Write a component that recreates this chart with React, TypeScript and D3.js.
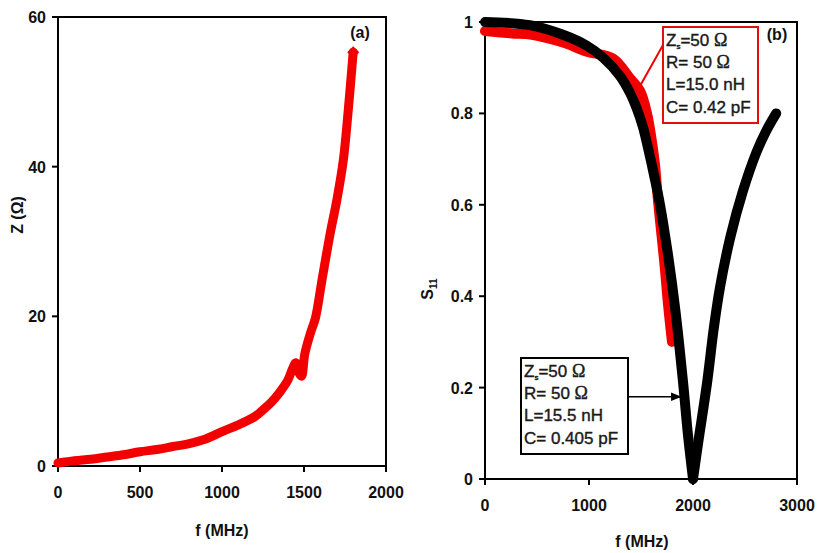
import React from 'react';
import * as d3 from 'd3';

// (a) measured impedance vs frequency
const zFreq = [0, 100, 200, 300, 400, 500, 600, 700, 800, 900, 1000, 1100, 1200, 1250, 1300, 1350, 1400, 1430, 1450, 1470, 1485, 1505, 1540, 1570, 1610, 1660, 1700, 1740, 1770, 1800];
const zVal = [0.4, 0.7, 0.9, 1.2, 1.5, 1.9, 2.2, 2.6, 3.0, 3.6, 4.6, 5.5, 6.6, 7.5, 8.5, 9.8, 11.4, 13.0, 13.8, 12.4, 12.0, 15.0, 17.8, 19.8, 24.9, 31.1, 35.5, 40.9, 47.6, 55.3];

// (b) S11: measured (red) and model (black, two branches around resonance)
const measFreq = [0, 260, 450, 750, 980, 1231, 1394, 1490, 1558, 1606, 1635, 1663, 1702, 1731, 1760, 1798];
const measS11 = [0.98, 0.975, 0.972, 0.955, 0.935, 0.92, 0.877, 0.85, 0.8, 0.737, 0.687, 0.61, 0.523, 0.457, 0.381, 0.3];
const modelFreqLow = [0, 430, 750, 980, 1135, 1298, 1394, 1460, 1519, 1567, 1630, 1683, 1760, 1830, 1905, 1950, 2000];
const modelS11Low = [1.0, 0.993, 0.972, 0.948, 0.922, 0.882, 0.845, 0.81, 0.77, 0.725, 0.66, 0.6, 0.49, 0.37, 0.21, 0.1, 0.0];
const modelFreqHigh = [2000, 2050, 2135, 2200, 2260, 2360, 2480, 2610, 2700, 2800];
const modelS11High = [0.0, 0.08, 0.21, 0.33, 0.42, 0.53, 0.63, 0.715, 0.76, 0.8];

const xTicksA = [0, 500, 1000, 1500, 2000];
const yTicksA = [0, 20, 40, 60];
const xTicksB = [0, 1000, 2000, 3000];
const yTicksB = [0, 0.2, 0.4, 0.6, 0.8, 1];

const measLegend = ['=50 ', 'R= 50 ', 'L=15.0 nH', 'C= 0.42 pF'];
const modelLegend = ['=50 ', 'R= 50 ', 'L=15.5 nH', 'C= 0.405 pF'];

const FONT = '"Liberation Sans", Arial, sans-serif';
const RED = '#f20000';

type Lin = d3.ScaleLinear<number, number>;

function Axes({ x, y, xTicks, yTicks, fmt }: { x: Lin; y: Lin; xTicks: number[]; yTicks: number[]; fmt: (v: number) => string }) {
  const [x0, x1] = x.range();
  const [y0, y1] = y.range();
  return (
    <g fontFamily={FONT} fontWeight="bold" fontSize={16} fill="#111">
      <rect x={x0} y={y1} width={x1 - x0} height={y0 - y1} fill="none" stroke="#000" strokeWidth={2} />
      {xTicks.map((t) => (
        <g key={'x' + t}>
          <line x1={x(t)} x2={x(t)} y1={y0} y2={y0 + 6} stroke="#000" strokeWidth={2} />
          <text x={x(t)} y={y0 + 32} textAnchor="middle">{t}</text>
        </g>
      ))}
      {yTicks.map((t) => (
        <g key={'y' + t}>
          <line x1={x0 - 6} x2={x0} y1={y(t)} y2={y(t)} stroke="#000" strokeWidth={2} />
          <text x={x0 - 12} y={y(t) + 6} textAnchor="end">{fmt(t)}</text>
        </g>
      ))}
    </g>
  );
}

function Legend({ x, y, w, h, lines, color }: { x: number; y: number; w: number; h: number; lines: string[]; color: string }) {
  return (
    <g fontFamily={FONT} fontSize={17} fill="#1a1a1a" stroke="#1a1a1a" strokeWidth={0.4}>
      <rect x={x} y={y} width={w} height={h} fill="#fff" stroke={color} strokeWidth={2} />
      {lines.map((s, i) => (
        <text key={i} x={x + 3} y={y + 19 + i * 22.2}>
          {i === 0 && <tspan>Z</tspan>}
          {i === 0 && <tspan fontSize={8} dy={3}>s</tspan>}
          <tspan dy={i === 0 ? -3 : 0}>{s}</tspan>
          {i < 2 && <tspan fontFamily='"Liberation Serif", serif' fontSize={18}>Ω</tspan>}
        </text>
      ))}
    </g>
  );
}

export default function App() {
  const xA = d3.scaleLinear().domain([0, 2000]).range([58, 386]);
  const yA = d3.scaleLinear().domain([0, 60]).range([466, 17]);
  const xB = d3.scaleLinear().domain([0, 3000]).range([485, 797]);
  const yB = d3.scaleLinear().domain([0, 1]).range([479, 22]);

  const curve = d3.curveCatmullRom.alpha(0.5);
  const lineA = d3.line<number>().x((_, i) => xA(zFreq[i])).y((d) => yA(d)).curve(curve);
  const measLine = d3.line<number>().x((_, i) => xB(measFreq[i])).y((d) => yB(d)).curve(curve);
  const lowLine = d3.line<number>().x((_, i) => xB(modelFreqLow[i])).y((d) => yB(d)).curve(curve);
  const highLine = d3.line<number>().x((_, i) => xB(modelFreqHigh[i])).y((d) => yB(d)).curve(curve);

  const endA = { x: xA(zFreq[zFreq.length - 1]), y: yA(zVal[zVal.length - 1]) };

  return (
    <svg width={817} height={553} style={{ position: 'absolute', left: 0, top: 0, background: '#fff' }}>
      <defs>
        <marker id="arr" viewBox="0 0 10 10" refX={9} refY={5} markerWidth={7} markerHeight={7} orient="auto">
          <path d="M0,1 L10,5 L0,9 z" fill="#000" />
        </marker>
      </defs>

      {/* panel (a) */}
      <Axes x={xA} y={yA} xTicks={xTicksA} yTicks={yTicksA} fmt={(v) => String(v)} />
      <path d={lineA(zVal) || ''} fill="none" stroke={RED} strokeWidth={9} strokeLinecap="round" strokeLinejoin="round" />
      <path d={`M${endA.x},${endA.y - 6} L${endA.x + 6},${endA.y} L${endA.x},${endA.y + 6} L${endA.x - 6},${endA.y} Z`} fill={RED} />
      <g fontFamily={FONT} fontWeight="bold" fontSize={16} fill="#111">
        <text x={360} y={38} textAnchor="middle">(a)</text>
        <text x={222} y={536} textAnchor="middle">f (MHz)</text>
        <text transform="translate(23,215) rotate(-90)" textAnchor="middle">Z (Ω)</text>
      </g>

      {/* panel (b) */}
      <Axes x={xB} y={yB} xTicks={xTicksB} yTicks={yTicksB} fmt={(v) => (v === 0 || v === 1 ? String(v) : v.toFixed(1))} />
      <path d={measLine(measS11) || ''} fill="none" stroke={RED} strokeWidth={10} strokeLinecap="round" strokeLinejoin="round" />
      <path d={lowLine(modelS11Low) || ''} fill="none" stroke="#000" strokeWidth={10} strokeLinecap="round" strokeLinejoin="round" />
      <path d={highLine(modelS11High) || ''} fill="none" stroke="#000" strokeWidth={10} strokeLinecap="round" strokeLinejoin="round" />

      <line x1={663} y1={45} x2={xB(1490)} y2={yB(0.86)} stroke={RED} strokeWidth={2} />
      <Legend x={663} y={27} w={95} h={96} lines={measLegend} color="#e01010" />

      <line x1={628} y1={yB(0.18)} x2={xB(1880)} y2={yB(0.18)} stroke="#000" strokeWidth={1.5} markerEnd="url(#arr)" />
      <Legend x={521} y={358} w={107} h={96} lines={modelLegend} color="#000" />

      <g fontFamily={FONT} fontWeight="bold" fontSize={16} fill="#111">
        <text x={777} y={40} textAnchor="middle">(b)</text>
        <text x={642} y={547} textAnchor="middle">f (MHz)</text>
        <text transform="translate(433,289) rotate(-90)" textAnchor="middle">
          S<tspan fontSize={10} dy={4}>11</tspan>
        </text>
      </g>
    </svg>
  );
}
